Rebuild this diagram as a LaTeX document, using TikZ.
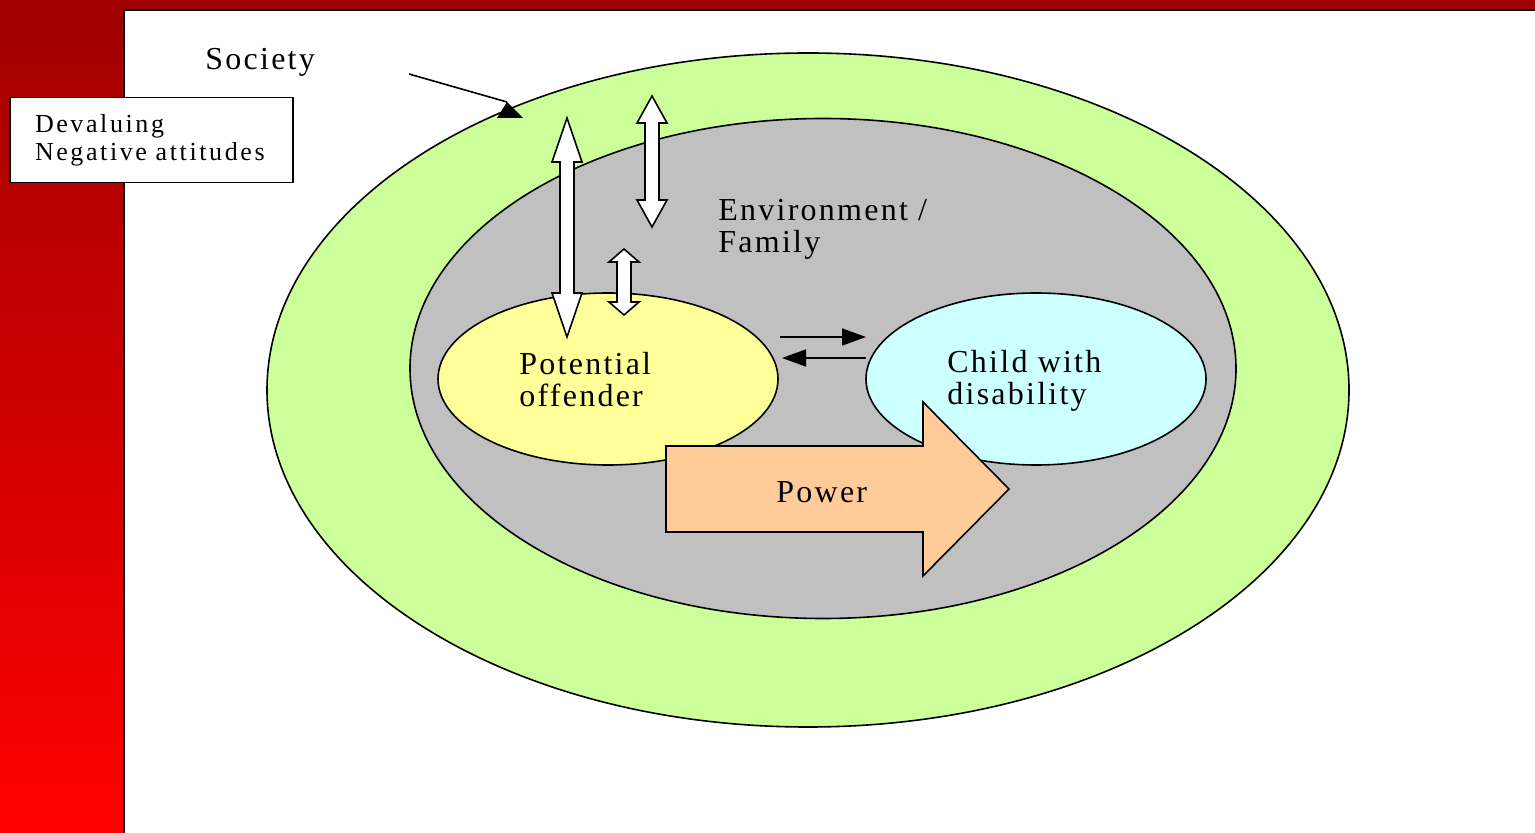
\documentclass[tikz,border=0pt]{standalone}
\usepackage{fontspec}
\setmainfont{Liberation Serif}[LetterSpace=7]
\usepackage{tikz}
\usetikzlibrary{arrows.meta,positioning,shapes.geometric}
\definecolor{bgtop}{HTML}{A00000}
\definecolor{bgbot}{HTML}{FF0000}
\definecolor{csoc}{HTML}{CCFF99}
\definecolor{cenv}{HTML}{C0C0C0}
\definecolor{coff}{HTML}{FFFF99}
\definecolor{cchild}{HTML}{CCFFFF}
\definecolor{cpow}{HTML}{FFCC99}
\newcommand{\lblfont}{\fontsize{16}{16}\selectfont}
\newcommand{\boxfont}{\addfontfeature{LetterSpace=10}\fontsize{13}{14}\selectfont}
% x, top, bottom, head length
\newcommand{\dblarrow}[4]{%
  \draw[blockarrow] (#1,#2) -- (#1+15,#2+#4) -- (#1+7,#2+#4) -- (#1+7,#3-#4) -- (#1+15,#3-#4) -- (#1,#3)
    -- (#1-15,#3-#4) -- (#1-7,#3-#4) -- (#1-7,#2+#4) -- (#1-15,#2+#4) -- cycle;}
\tikzset{
  ring/.style={ellipse,draw,line width=0.8pt,inner sep=0pt,outer sep=0pt},
  lbl/.style={anchor=north west,inner sep=0pt,align=left,font=\lblfont},
  blockarrow/.style={draw,fill=white,line width=0.8pt,line join=miter},
  thinarrow/.style={-{Triangle[length=12pt,width=8.5pt]},line width=0.8pt},
}
\begin{document}
\begin{tikzpicture}[x=0.5pt,y=-0.5pt]
  \useasboundingbox (0,0) rectangle (1535,833);
  % slide background
  \shade[top color=bgtop,bottom color=bgbot] (0,0) rectangle (1535,833);
  \fill[white] (124,10) rectangle (1535,833);
  \draw[line width=0.9pt] (124,833) -- (124,10) -- (1535,10);
  % nested circles
  \node[ring,fill=csoc,minimum width=541pt,minimum height=337pt] (soc) at (808,390) {};
  \node[ring,fill=cenv,minimum width=413pt,minimum height=250pt] (env) at (823,368.5) {};
  \node[ring,fill=coff,minimum width=170pt,minimum height=86pt] (off) at (608,379) {};
  \node[ring,fill=cchild,minimum width=170pt,minimum height=86pt,right=44pt of off] (child) {};
  \node[lbl] (soclbl) at (205,48) {Society};
  \node[lbl] (envlbl) at (718,199) {Environment /\\Family};
  \node[lbl] (offlbl) at (519,352) {Potential\\offender};
  \node[lbl] (childlbl) at (947,350) {Child with\\disability};
  \node[draw,fill=white,line width=0.8pt,minimum width=141.5pt,minimum height=42.5pt,
    text width=116.5pt,align=left,font=\boxfont,inner xsep=12.5pt,inner ysep=0pt] (devbox) at (151.5,140) {Devaluing\\Negative attitudes};
  % pointer to society
  \coordinate (socfrom) at (409,74);
  \coordinate (soctip) at (507,102);
  \draw[line width=0.8pt] (socfrom) -- (soctip);
  \fill (soctip) -- ++(16,16) -- ++(-26,0) -- cycle;
  % influences
  \dblarrow{567}{118}{337}{44}
  \dblarrow{652}{96}{227}{27}
  \dblarrow{624}{249}{315}{13}
  \draw[thinarrow] ([xshift=1pt,yshift=21pt]off.east) -- ([yshift=21pt]child.west);
  \draw[thinarrow] ([yshift=10.5pt]child.west) -- ([xshift=2pt,yshift=10.5pt]off.east);
  % power
  \draw[line width=0.8pt,fill=cpow] (666,446) -- (923,446) -- (923,402) -- (1009,489)
    -- (923,576) -- (923,532) -- (666,532) -- cycle;
  \node[lbl] (powlbl) at (776,481) {Power};
\end{tikzpicture}
\end{document}
